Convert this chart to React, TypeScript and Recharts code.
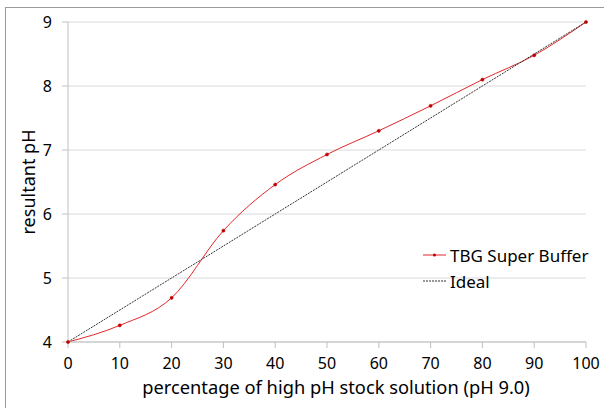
import { CartesianGrid, Line, LineChart, XAxis, YAxis } from "recharts";

const percentages = [0, 10, 20, 30, 40, 50, 60, 70, 80, 90, 100];
const superBuffer = [4.0, 4.26, 4.69, 5.74, 6.46, 6.93, 7.3, 7.69, 8.1, 8.48, 9.0];
const ideal = [4.0, 4.5, 5.0, 5.5, 6.0, 6.5, 7.0, 7.5, 8.0, 8.5, 9.0];
const xTicks = [0, 10, 20, 30, 40, 50, 60, 70, 80, 90, 100];
const yTicks = [4, 5, 6, 7, 8, 9];
const seriesNames = ["TBG Super Buffer", "Ideal"];

const font = "'Noto Sans', sans-serif";
const axisGray = "#bfbfbf";
const red = "#e3262b";

const data = percentages.map((p, i) => ({
  pct: p,
  buffer: superBuffer[i],
  ideal: ideal[i],
}));

function ChartLegend() {
  return (
    <div
      style={{
        position: "absolute",
        left: 423,
        top: 242,
        fontFamily: font,
        fontSize: 17,
        color: "#000",
      }}
    >
      {seriesNames.map((name, i) => {
        const dashed = i === 1;
        return (
          <div key={name} style={{ display: "flex", alignItems: "center", height: 26 }}>
            <svg width={26} height={10} style={{ marginRight: 1 }}>
              <line
                x1={0}
                y1={5}
                x2={23}
                y2={5}
                stroke={dashed ? "#333" : red}
                strokeWidth={1}
                strokeDasharray={dashed ? "2 1" : undefined}
              />
              {!dashed && <circle cx={11.5} cy={5} r={1.5} fill="#c00000" />}
            </svg>
            <span>{name}</span>
          </div>
        );
      })}
    </div>
  );
}

export default function App() {
  return (
    <div
      style={{
        position: "fixed",
        left: 0,
        top: 0,
        width: 604,
        height: 408,
        background: "#fff",
        overflow: "hidden",
      }}
    >
      <div
        style={{
          position: "absolute",
          left: 5,
          top: 7,
          width: 620,
          height: 420,
          border: "1px solid #9a9a9a",
        }}
      />
      <LineChart
        width={604}
        height={408}
        data={data}
        margin={{ top: 22, right: 18, bottom: 0, left: 5 }}
        style={{ position: "absolute", left: 0, top: 0 }}
      >
        <CartesianGrid vertical={false} stroke="#d9d9d9" />
        <XAxis
          dataKey="pct"
          type="number"
          domain={[0, 100]}
          ticks={xTicks}
          height={66}
          interval={0}
          stroke={axisGray}
          tickSize={6}
          tickMargin={10}
          tick={{ fill: "#000", fontFamily: font, fontSize: 16 }}
          label={{
            value: "percentage of high pH stock solution (pH 9.0)",
            position: "insideBottom",
            offset: 14,
            dx: 9,
            style: { fill: "#000", fontFamily: font, fontSize: 18.3 },
          }}
        />
        <YAxis
          type="number"
          domain={[4, 9]}
          ticks={yTicks}
          width={63}
          interval={0}
          stroke={axisGray}
          tickSize={6}
          tickMargin={10}
          tick={{ fill: "#000", fontFamily: font, fontSize: 16 }}
          label={{
            value: "resultant pH",
            angle: -90,
            position: "insideLeft",
            offset: 24,
            style: { fill: "#000", fontFamily: font, fontSize: 18, textAnchor: "middle" },
          }}
        />
        <Line
          dataKey="buffer"
          name={seriesNames[0]}
          type="monotone"
          stroke={red}
          strokeWidth={1}
          dot={{ r: 1.6, fill: "#c00000", stroke: "#c00000", strokeWidth: 0.5 }}
          activeDot={false}
          isAnimationActive={false}
        />
        <Line
          dataKey="ideal"
          name={seriesNames[1]}
          type="linear"
          stroke="#333"
          strokeWidth={1}
          strokeDasharray="2 1"
          dot={false}
          activeDot={false}
          isAnimationActive={false}
        />
      </LineChart>
      <ChartLegend />
    </div>
  );
}
